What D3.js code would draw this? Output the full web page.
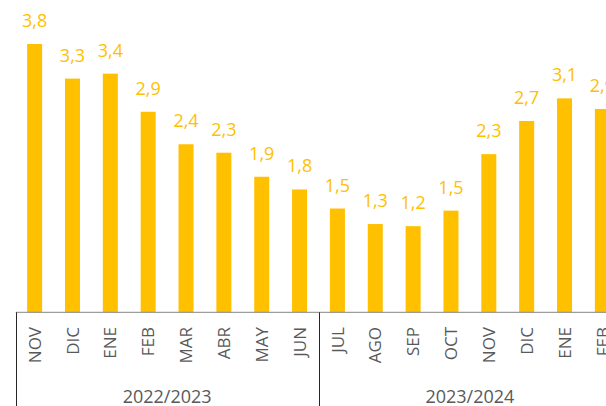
<!DOCTYPE html>
<html>
<head>
<meta charset="utf-8">
<script src="https://cdn.jsdelivr.net/npm/d3@7"></script>
<style>
  body { margin: 0; background: #fff; }
  text { font-family: "Open Sans", sans-serif; }
</style>
</head>
<body>
<div id="chart"></div>
<script>
// months shown under each bar (two seasons)
const months = ["NOV", "DIC", "ENE", "FEB", "MAR", "ABR", "MAY", "JUN",
  "JUL", "AGO", "SEP", "OCT", "NOV", "DIC", "ENE", "FEB"];
// bar heights
const values = [3.80, 3.31, 3.38, 2.84, 2.38, 2.26, 1.92, 1.74,
  1.47, 1.25, 1.22, 1.44, 2.24, 2.71, 3.03, 2.88];
// data labels printed above the bars
const labels = ["3,8", "3,3", "3,4", "2,9", "2,4", "2,3", "1,9", "1,8",
  "1,5", "1,3", "1,2", "1,5", "2,3", "2,7", "3,1", "2,9"];
const seasons = ["2022/2023", "2023/2024"];
const perSeason = 8;

const width = 606, height = 406;
const left = 15.7, step = 37.85, axisY = 312.3;

const svg = d3.select("#chart")
  .append("svg")
  .attr("width", width)
  .attr("height", height);

const x = d3.scaleBand()
  .domain(d3.range(months.length))
  .range([left, left + step * months.length])
  .padding(0);

const y = d3.scaleLinear()
  .domain([0, 3.8])
  .range([axisY, 44]);

const barW = 15;

svg.append("g")
  .selectAll("rect")
  .data(values)
  .join("rect")
  .attr("x", (d, i) => x(i) + x.bandwidth() / 2 - barW / 2)
  .attr("y", d => y(d))
  .attr("width", barW)
  .attr("height", d => axisY - y(d))
  .attr("fill", "#FFC000");

svg.append("g")
  .selectAll("text")
  .data(values)
  .join("text")
  .attr("x", (d, i) => x(i) + x.bandwidth() / 2)
  .attr("y", d => y(d) - 17)
  .attr("text-anchor", "middle")
  .attr("font-size", 18)
  .attr("fill", "#FFC000")
  .text((d, i) => labels[i]);

// category axis
svg.append("line")
  .attr("x1", left).attr("x2", width)
  .attr("y1", axisY).attr("y2", axisY)
  .attr("stroke", "#868686")
  .attr("stroke-width", 1);

svg.append("g")
  .selectAll("text")
  .data(months)
  .join("text")
  .attr("transform", (d, i) => `translate(${x(i) + x.bandwidth() / 2},327) rotate(-90)`)
  .attr("dy", "0.36em")
  .attr("text-anchor", "end")
  .attr("font-size", 17)
  .attr("fill", "#595959")
  .text(d => d);

// season separators and labels
const seps = d3.range(seasons.length).map(k => x(k * perSeason));
svg.append("g")
  .selectAll("line")
  .data(seps)
  .join("line")
  .attr("x1", d => Math.round(d) + 0.5).attr("x2", d => Math.round(d) + 0.5)
  .attr("y1", axisY).attr("y2", height)
  .attr("stroke", "#262626")
  .attr("stroke-width", 1);

svg.append("g")
  .selectAll("text")
  .data(seasons)
  .join("text")
  .attr("x", (d, k) => x(k * perSeason) + step * perSeason / 2)
  .attr("y", 403)
  .attr("text-anchor", "middle")
  .attr("font-size", 18)
  .attr("fill", "#595959")
  .text(d => d);
</script>
</body>
</html>
